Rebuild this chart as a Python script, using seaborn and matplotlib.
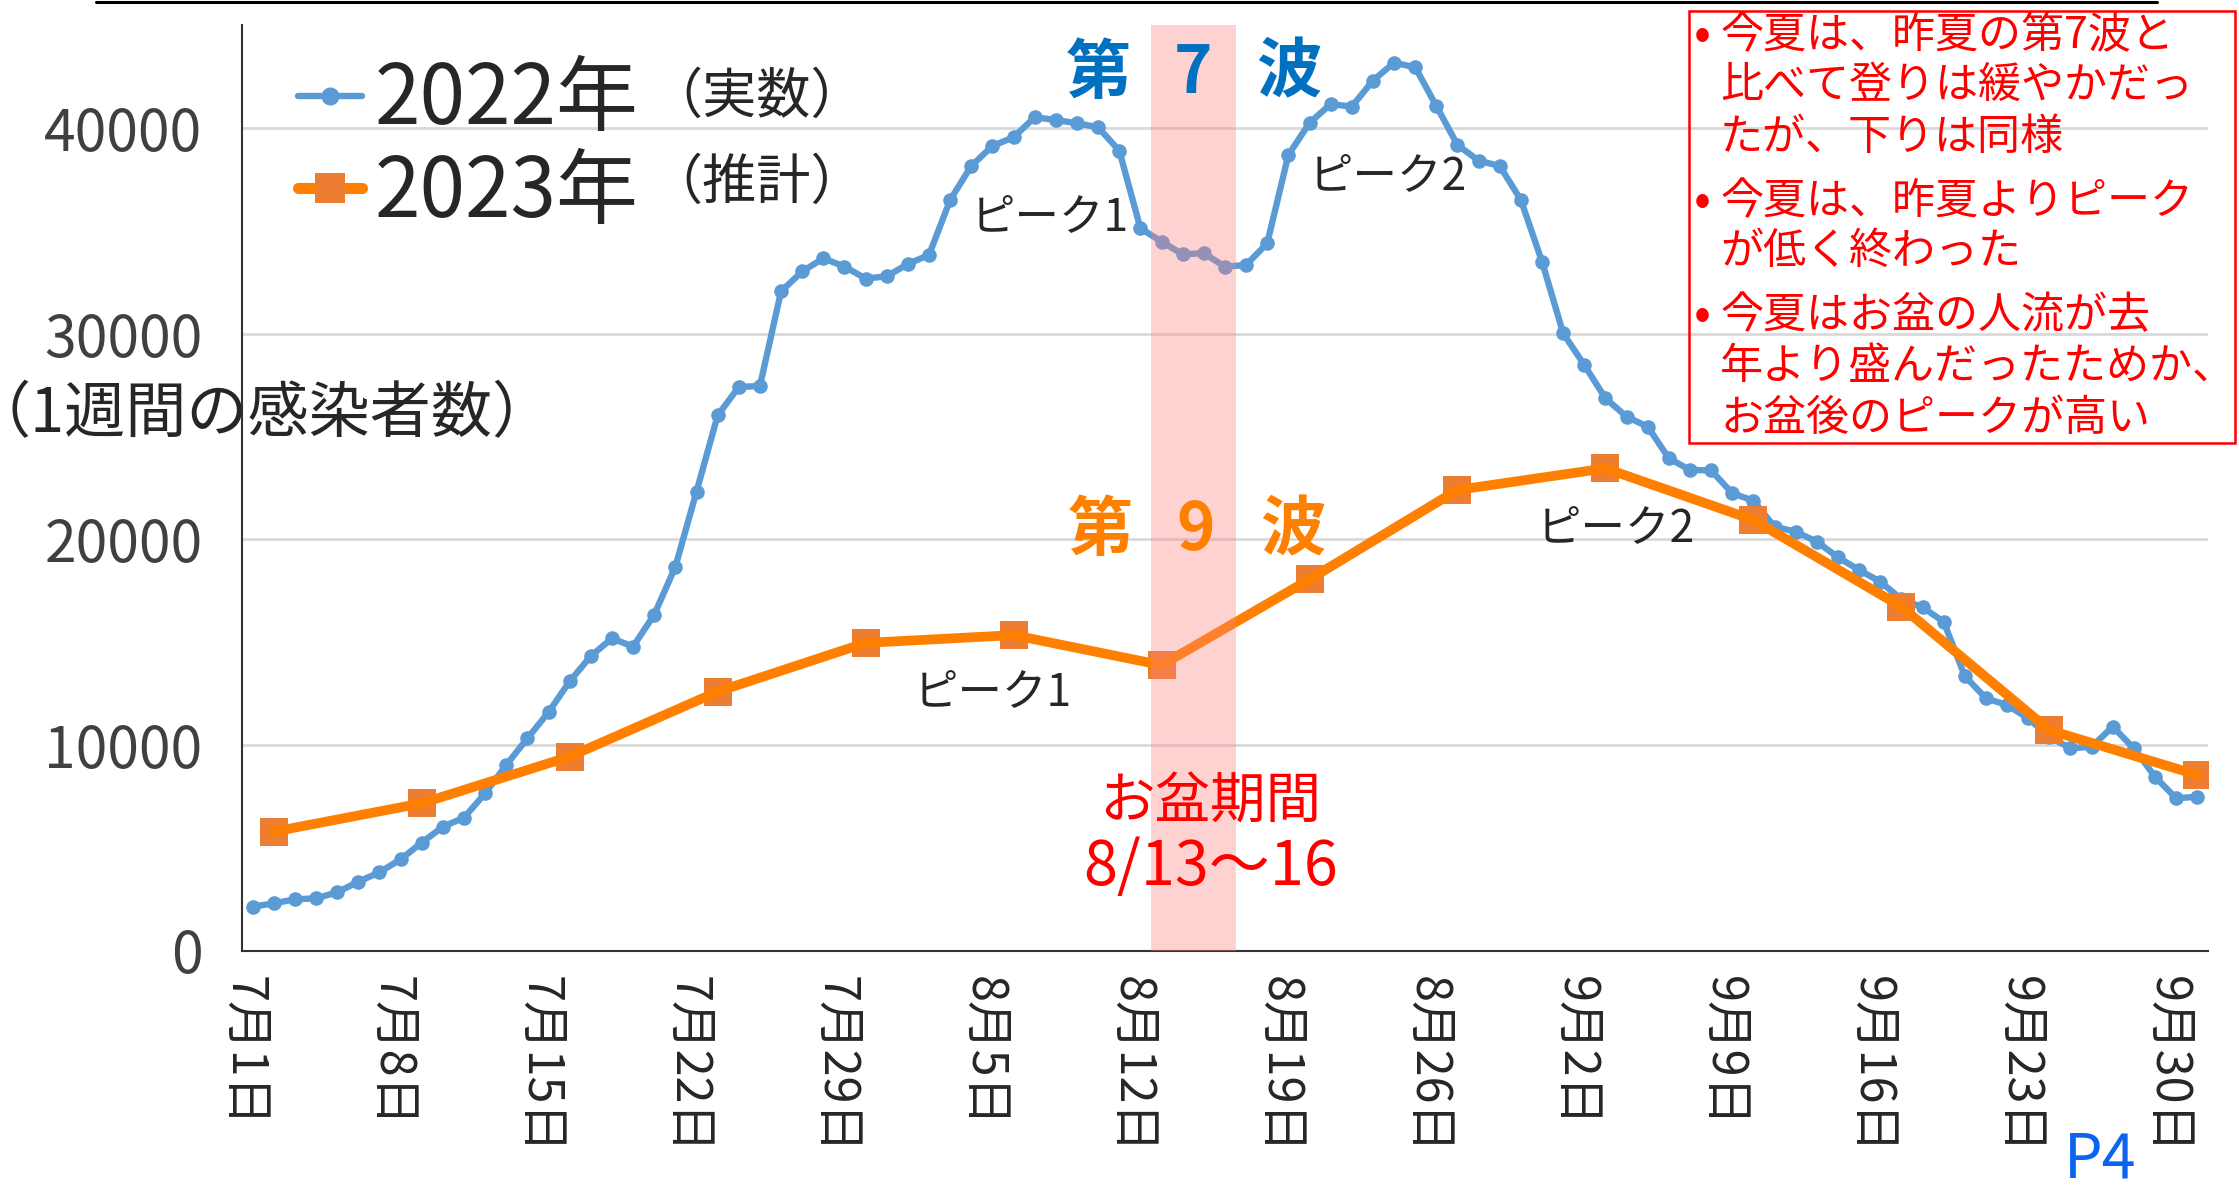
import numpy as np
import pandas as pd
import matplotlib
matplotlib.use("Agg")
import matplotlib.pyplot as plt
import matplotlib.transforms as mtransforms
from matplotlib.lines import Line2D
from matplotlib.patches import Rectangle
import seaborn as sns

# ---- data ----
days_2022 = pd.date_range("2022-07-01", "2022-10-01")          # 93 days
counts_2022 = [2140, 2305, 2500, 2548, 2840, 3357, 3813, 4445, 5253, 6031,
               6469, 7655, 9032, 10330, 11600, 13100, 14330, 15190, 14790, 16345,
               18672, 22328, 26034, 27414, 27466, 32069, 33034, 33672, 33276, 32690,
               32800, 33400, 33838, 36513, 38167, 39140, 39562, 40535, 40404, 40242,
               40048, 38911, 35136, 34485, 33872, 33920, 33269, 33351, 34407, 38701,
               40260, 41175, 41053, 42315, 43190, 42965, 41084, 39188, 38425, 38166,
               36513, 33513, 30029, 28487, 26867, 25973, 25486, 23949, 23380, 23360,
               22247, 21887, 20623, 20380, 19893, 19134, 18516, 17948, 17100, 16703,
               16003, 13361, 12276, 11950, 11303, 10400, 9844, 9922, 10895, 9844,
               8463, 7412, 7490]
days_2023 = pd.date_range("2023-07-02", "2023-10-01", freq="7D")  # 14 weeks
counts_2023 = [5790, 7170, 9440, 12600, 14970, 15350, 13890, 18060, 22410,
               23460, 20950, 16730, 10730, 8550]

obon_start, obon_end = "08-13", "08-16"
tick_every = 7
notes = [["今夏は、昨夏の第7波と", "比べて登りは緩やかだっ", "たが、下りは同様"],
         ["今夏は、昨夏よりピーク", "が低く終わった"],
         ["今夏はお盆の人流が去", "年より盛んだったためか、", "お盆後のピークが高い"]]

# position on the category axis (day number from 7/1, category centre at +0.5)
def day_pos(d):
    return (d - pd.Timestamp(year=d.year, month=7, day=1)).days + 0.5

df22 = pd.DataFrame({"x": [day_pos(d) for d in days_2022], "count": counts_2022})
df23 = pd.DataFrame({"x": [day_pos(d) for d in days_2023], "count": counts_2023})

sns.set_style("white")
plt.rcParams["font.family"] = ["Noto Sans CJK JP", "DejaVu Sans"]

BLUE = "#5B9BD5"
ORANGE = "#FF8000"
SQ = "#ED7D31"

fig = plt.figure(figsize=(22.39, 11.89), dpi=100)
ax = fig.add_axes([0.1081, 0.2004, 0.878, 0.7782])

sns.lineplot(data=df22, x="x", y="count", ax=ax, color=BLUE, linewidth=4.6,
             marker="o", markersize=10.5, markeredgewidth=0, zorder=2, legend=False)
sns.scatterplot(data=df23, x="x", y="count", ax=ax, color=SQ, marker="s",
                s=400, linewidth=0, zorder=3, legend=False)
sns.lineplot(data=df23, x="x", y="count", ax=ax, color=ORANGE, linewidth=7,
             zorder=4, legend=False)

# お盆期間 band
s = day_pos(pd.Timestamp("2022-" + obon_start)) - 0.5
e = day_pos(pd.Timestamp("2022-" + obon_end)) + 0.5
ax.axvspan(s, e, color="#FF8080", alpha=0.35, lw=0, zorder=5)

ax.set_xlim(0, len(days_2022))
ax.set_ylim(0, 45000)
ax.set_xlabel("")
ax.set_ylabel("")

major = np.arange(0, len(days_2022) - 1, tick_every)
ax.set_xticks(major)
ax.set_xticklabels([f"{d.month}月{d.day}日" for d in days_2022[::tick_every][:len(major)]],
                   rotation=-90, fontsize=35, color="#262626")
ax.set_xticks(np.arange(0, len(days_2022) + 1), minor=True)
ax.tick_params(axis="x", which="major", direction="inout", length=17, width=1.5,
               color="#333333", pad=10)
ax.tick_params(axis="x", which="minor", direction="out", length=8, width=1.5,
               color="#333333")
offset = mtransforms.ScaledTranslation(0.02, 0, fig.dpi_scale_trans)
for lab in ax.get_xticklabels():
    lab.set_transform(lab.get_transform() + offset)
    lab.set_verticalalignment("top")

ax.set_yticks([0, 10000, 20000, 30000, 40000])
ax.set_yticklabels(["0", "10000", "20000", "30000", "40000"], fontsize=41, color="#404040")
ax.set_yticks([5000, 15000, 25000, 35000, 45000], minor=True)
ax.tick_params(axis="y", which="major", direction="inout", length=19, width=1.5,
               color="#333333", pad=19)
ax.tick_params(axis="y", which="minor", direction="out", length=10, width=1.5,
               color="#333333")
ax.yaxis.grid(True, which="major", color="#D9D9D9", lw=2)
ax.set_axisbelow(True)
for side in ["top", "right"]:
    ax.spines[side].set_visible(False)
for side in ["left", "bottom"]:
    ax.spines[side].set_color("#333333")
    ax.spines[side].set_linewidth(1.5)

# legend
h22 = Line2D([], [], color=BLUE, lw=4.6, marker="o", markersize=13, markeredgewidth=0)
h23 = Line2D([], [], color=ORANGE, lw=8, marker="s", markersize=22,
             markerfacecolor=SQ, markeredgewidth=0)
fig.legend([h22, h23], ["2022年", "2023年"], loc="upper left",
           bbox_to_anchor=(298 / 2239, 0.951), frameon=False, fontsize=59,
           handlelength=0.78, handletextpad=0.15, labelspacing=0.09,
           borderpad=0, borderaxespad=0)
fig.text(757 / 2239, 1 - 97 / 1189, "（実数）", fontsize=39, ha="center", va="center")
fig.text(757 / 2239, 1 - 183 / 1189, "（推計）", fontsize=39, ha="center", va="center")

# wave labels
for x, ch in zip([40.5, 45.0, 49.5], ["第", "7", "波"]):
    ax.text(x, 42680, ch, color="#0070C0", fontsize=47, fontweight="bold",
            ha="center", va="center", zorder=6)
for x, ch in zip([40.6, 45.1, 49.7], ["第", "9", "波"]):
    ax.text(x, 20420, ch, color=ORANGE, fontsize=47, fontweight="bold",
            ha="center", va="center", zorder=6)

for x, y in [(38.2, 35690), (35.5, 12580)]:
    ax.text(x, y, "ピーク1", fontsize=32, ha="center", va="center", zorder=6)
for x, y in [(54.2, 37680), (65.0, 20550)]:
    ax.text(x, y, "ピーク2", fontsize=32, ha="center", va="center", zorder=6)

ax.text(45.8, 7190, "お盆期間", color="red", fontsize=40, ha="center", va="center", zorder=6)
ax.text(45.8, 4050, "8/13～16", color="red", fontsize=44, ha="center", va="center", zorder=6)

fig.text(262 / 2239, 1 - 415 / 1189, "（1週間の感染者数）", fontsize=44,
         ha="center", va="center")

# notes box
fig.patches.append(Rectangle((1689 / 2239, 1 - 443 / 1189), (2235 - 1689) / 2239,
                             (443 - 11) / 1189, transform=fig.transFigure,
                             fill=False, edgecolor="red", lw=1.8))
line_y = [[36, 86, 138], [202, 252], [316, 367, 419]]
for block, ys in zip(notes, line_y):
    fig.text(1702 / 2239, 1 - ys[0] / 1189, "•", color="red", fontsize=36,
             ha="center", va="center")
    for txt, y in zip(block, ys):
        fig.text(1720 / 2239, 1 - y / 1189, txt, color="red", fontsize=31,
                 ha="left", va="center")

fig.add_artist(Line2D([96 / 2239, 2157 / 2239], [0.9987, 0.9987], color="black",
                      lw=2.2, transform=fig.transFigure))
fig.text(2100 / 2239, 1 - 1160 / 1189, "P4", color="#0A64F0", fontsize=44,
         ha="center", va="center")

fig.savefig("out.png", dpi=100)
